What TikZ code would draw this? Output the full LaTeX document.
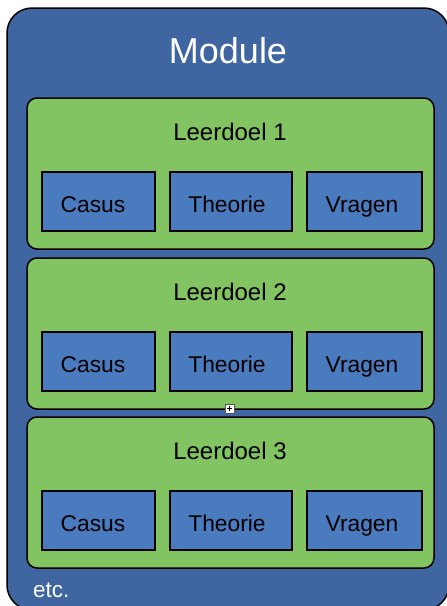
\documentclass[tikz,border=0pt]{standalone}
\usepackage{fontspec}
\setmainfont{Liberation Sans}
\definecolor{outerblue}{HTML}{3F66A0}
\definecolor{leafgreen}{HTML}{82C462}
\definecolor{innerblue}{HTML}{4A7BBF}
\begin{document}
\begin{tikzpicture}[x=1pt,y=-1pt,
  modbox/.style={draw=black,line width=1.5pt,fill=outerblue,rounded corners=25pt},
  goalbox/.style={draw=black,line width=1.5pt,fill=leafgreen,rounded corners=10pt},
  partbox/.style={draw=black,line width=1.5pt,fill=innerblue},
  parttext/.style={font=\fontsize{22.8}{25}\selectfont,text=black,anchor=base,inner sep=0pt},
  goaltext/.style={font=\fontsize{24}{26}\selectfont,text=black,anchor=base,inner sep=0pt}]
\useasboundingbox (0,0) rectangle (447,606);
\clip (0,0) rectangle (447,606);
\fill[white] (0,0) rectangle (447,606);
\draw[modbox] (7,8) rectangle (449,610);
\node[text=white,font=\fontsize{36}{40}\selectfont,anchor=base,inner sep=0pt] (module) at (228,63) {Module};
\foreach \i/\t in {1/98,2/258,3/417}{
  \draw[goalbox] (27,\t) rectangle (434,\t+151);
  \node[goaltext] (goal\i) at (230,\t+42) {Leerdoel \i};
  \draw[partbox] (42,\t+74) rectangle (155,\t+133);
  \node[parttext] (casus\i) at (93,\t+114) {Casus};
  \draw[partbox] (170,\t+74) rectangle (292,\t+133);
  \node[parttext] (theorie\i) at (227,\t+114) {Theorie};
  \draw[partbox] (307,\t+74) rectangle (422,\t+133);
  \node[parttext] (vragen\i) at (362,\t+114) {Vragen};
}
\node[text=white,font=\fontsize{22.5}{24}\selectfont,anchor=base west,inner sep=0pt] (etc) at (33,597) {etc.};
\draw[gray!70!black,fill=white,line width=0.6pt] (225,404) rectangle (234,413);
\draw[black,line width=0.8pt] (226.8,408.5) -- (232.2,408.5) (229.5,405.8) -- (229.5,411.2);
\end{tikzpicture}
\end{document}
